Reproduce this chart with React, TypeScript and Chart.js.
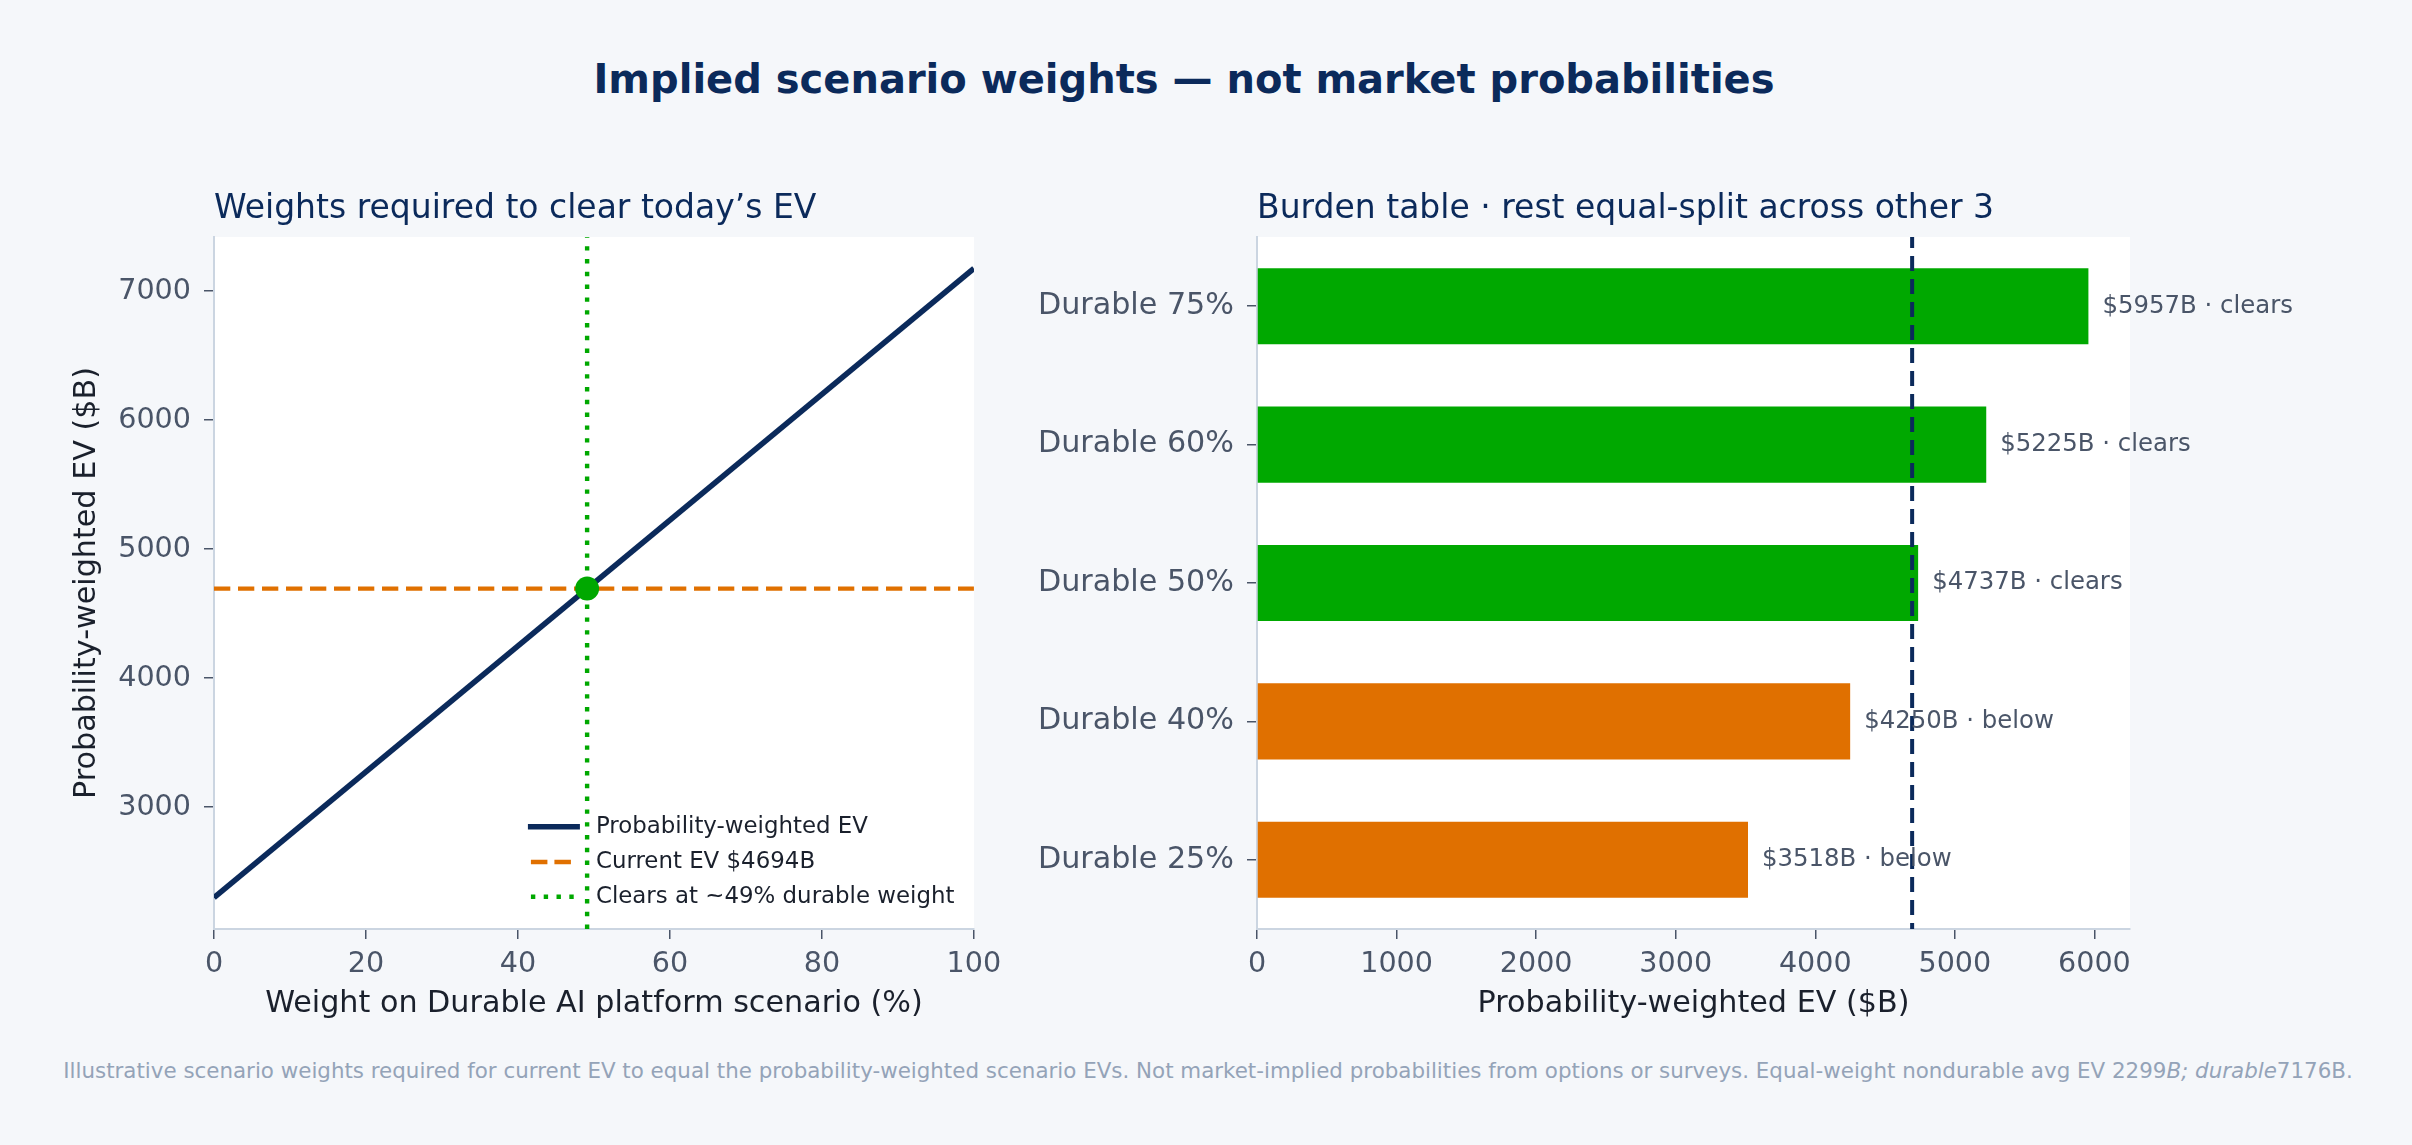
import React, { useEffect, useRef } from 'react';
import { Chart, registerables } from 'chart.js';

Chart.register(...registerables);

const FONT = '"DejaVu Sans", "Liberation Sans", sans-serif';
const NAVY = '#0b2a5b';
const GREEN = '#00a800';
const ORANGE = '#e07000';
const TICK_COLOR = '#4a5568';
const LABEL_COLOR = '#1a202c';
const SPINE = '#cbd5e1';
const PAGE_BG = '#f5f7fa';
const NOTE_COLOR = '#94a3b8';

// ---------- Left panel data ----------
const SUPTITLE = 'Implied scenario weights — not market probabilities';
const leftTitle = 'Weights required to clear today’s EV';
const weightEnds = [0, 100];
const evAtWeight = [2299, 7176];
const CURRENT_EV = 4694;
const CLEAR_WEIGHT = 49.1;
const leftXTicks = [0, 20, 40, 60, 80, 100];
const leftYTicks = [3000, 4000, 5000, 6000, 7000];
const LEFT_Y_MIN = 2055;
const LEFT_Y_MAX = 7420;
const leftXLabel = 'Weight on Durable AI platform scenario (%)';
const leftYLabel = 'Probability-weighted EV ($B)';
const legendLabels = ['Probability-weighted EV', 'Current EV $4694B', 'Clears at ~49% durable weight'];

// ---------- Right panel data ----------
const rightTitle = 'Burden table · rest equal-split across other 3';
const burdenLabels = ['Durable 75%', 'Durable 60%', 'Durable 50%', 'Durable 40%', 'Durable 25%'];
const burdenValues = [5957, 5225, 4737, 4250, 3518];
const burdenStatus = ['clears', 'clears', 'clears', 'below', 'below'];
const rightXTicks = [0, 1000, 2000, 3000, 4000, 5000, 6000];
const RIGHT_X_MAX = 6255;
const rightXLabel = 'Probability-weighted EV ($B)';

const bgPlugin = {
  id: 'plotBg',
  beforeDraw(chart: any) {
    const { ctx, chartArea: ca } = chart;
    ctx.save();
    ctx.fillStyle = '#ffffff';
    ctx.fillRect(ca.left, ca.top, ca.right - ca.left, ca.bottom - ca.top);
    ctx.restore();
  },
};

function axisCommon(tickSize: number, tickPad: number) {
  return {
    grid: { display: true, drawOnChartArea: false, drawTicks: true, tickLength: 10, color: TICK_COLOR, lineWidth: 1.5, offset: false },
    border: { display: true, color: SPINE, width: 2 },
    ticks: {
      color: TICK_COLOR,
      font: { family: FONT, size: tickSize },
      padding: tickPad,
      maxRotation: 0,
      autoSkip: false,
    },
  };
}

const plainNumber = (v: any) => String(v);

export default function App() {
  const leftRef = useRef<HTMLCanvasElement | null>(null);
  const rightRef = useRef<HTMLCanvasElement | null>(null);

  useEffect(() => {
    const leftPlugin = {
      id: 'leftDeco',
      afterDraw(chart: any) {
        const { ctx, chartArea: ca } = chart;
        ctx.save();
        ctx.font = `33px ${FONT}`;
        ctx.fillStyle = NAVY;
        ctx.textAlign = 'left';
        ctx.textBaseline = 'alphabetic';
        ctx.fillText(leftTitle, ca.left, ca.top - 18.7);

        // legend (lower right, no frame)
        const rows = [ca.bottom - 102.3, ca.bottom - 67, ca.bottom - 32.3];
        const textX = ca.right - 378;
        ctx.lineCap = 'butt';
        ctx.strokeStyle = NAVY;
        ctx.lineWidth = 5.5;
        ctx.setLineDash([]);
        ctx.beginPath();
        ctx.moveTo(ca.right - 446, rows[0]);
        ctx.lineTo(ca.right - 394, rows[0]);
        ctx.stroke();
        ctx.strokeStyle = ORANGE;
        ctx.lineWidth = 4.4;
        ctx.setLineDash([16.5, 7]);
        ctx.beginPath();
        ctx.moveTo(ca.right - 443, rows[1]);
        ctx.lineTo(ca.right - 401, rows[1]);
        ctx.stroke();
        ctx.strokeStyle = GREEN;
        ctx.setLineDash([4.4, 8.4]);
        ctx.beginPath();
        ctx.moveTo(ca.right - 443, rows[2]);
        ctx.lineTo(ca.right - 399, rows[2]);
        ctx.stroke();
        ctx.setLineDash([]);

        ctx.font = `22.9px ${FONT}`;
        ctx.fillStyle = LABEL_COLOR;
        ctx.textBaseline = 'middle';
        legendLabels.forEach((t, i) => ctx.fillText(t, textX, rows[i]));
        ctx.restore();
      },
    };

    const leftX = axisCommon(28.6, 8.8);
    const leftY = axisCommon(28.6, 13);
    const left = new Chart(leftRef.current as HTMLCanvasElement, {
      type: 'line',
      data: {
        datasets: [
          {
            label: legendLabels[0],
            data: weightEnds.map((w, i) => ({ x: w, y: evAtWeight[i] })),
            borderColor: NAVY,
            borderWidth: 5.5,
            pointRadius: 0,
            order: 1,
          },
          {
            label: legendLabels[1],
            data: [{ x: leftXTicks[0], y: CURRENT_EV }, { x: leftXTicks[leftXTicks.length - 1], y: CURRENT_EV }],
            borderColor: ORANGE,
            borderWidth: 4.4,
            borderDash: [16.3, 7.7],
            borderCapStyle: 'butt',
            pointRadius: 0,
            order: 3,
          },
          {
            label: legendLabels[2],
            data: [{ x: CLEAR_WEIGHT, y: LEFT_Y_MIN }, { x: CLEAR_WEIGHT, y: LEFT_Y_MAX }],
            borderColor: GREEN,
            borderWidth: 4.4,
            borderDash: [4.4, 8.4],
            borderCapStyle: 'butt',
            pointRadius: 0,
            order: 2,
          },
          {
            label: 'crossing',
            data: [{ x: CLEAR_WEIGHT, y: CURRENT_EV }],
            showLine: false,
            pointRadius: 12,
            pointBackgroundColor: GREEN,
            pointBorderWidth: 0,
            borderColor: GREEN,
            order: 0,
          },
        ],
      } as any,
      options: {
        animation: false,
        responsive: false,
        devicePixelRatio: 1,
        layout: { padding: { top: 87, right: 26, left: 0, bottom: 0 } },
        plugins: { legend: { display: false }, tooltip: { enabled: false }, title: { display: false } },
        scales: {
          x: {
            type: 'linear',
            min: 0,
            max: 100,
            ...leftX,
            ticks: { ...leftX.ticks, callback: plainNumber },
            afterBuildTicks: (s: any) => { s.ticks = leftXTicks.map((v) => ({ value: v })); },
            afterFit: (s: any) => { s.height = 121; },
            title: { display: true, text: leftXLabel, color: LABEL_COLOR, font: { family: FONT, size: 30.2 }, padding: { top: 0, bottom: 28 } },
          },
          y: {
            type: 'linear',
            min: LEFT_Y_MIN,
            max: LEFT_Y_MAX,
            ...leftY,
            ticks: { ...leftY.ticks, callback: plainNumber },
            afterBuildTicks: (s: any) => { s.ticks = leftYTicks.map((v) => ({ value: v })); },
            afterFit: (s: any) => { s.width = 214; },
            title: { display: true, text: leftYLabel, color: LABEL_COLOR, font: { family: FONT, size: 30.2 }, padding: { top: 69, bottom: 0 } },
          },
        },
      } as any,
      plugins: [bgPlugin, leftPlugin],
    });

    const rightPlugin = {
      id: 'rightDeco',
      afterDatasetsDraw(chart: any) {
        const { ctx, chartArea: ca, scales } = chart;
        ctx.save();
        const x = scales.x.getPixelForValue(CURRENT_EV);
        ctx.strokeStyle = NAVY;
        ctx.lineWidth = 4;
        ctx.setLineDash([15, 8]);
        ctx.lineDashOffset = 4;
        ctx.beginPath();
        ctx.moveTo(x, ca.top);
        ctx.lineTo(x, ca.bottom);
        ctx.stroke();
        ctx.setLineDash([]);
        const meta = chart.getDatasetMeta(0);
        ctx.font = `24.4px ${FONT}`;
        ctx.fillStyle = TICK_COLOR;
        ctx.textAlign = 'left';
        ctx.textBaseline = 'middle';
        meta.data.forEach((bar: any, i: number) => {
          ctx.fillText(`$${burdenValues[i]}B · ${burdenStatus[i]}`, bar.x + 14, bar.y);
        });
        ctx.restore();
      },
      afterDraw(chart: any) {
        const { ctx, chartArea: ca } = chart;
        ctx.save();
        ctx.font = `33px ${FONT}`;
        ctx.fillStyle = NAVY;
        ctx.textAlign = 'left';
        ctx.textBaseline = 'alphabetic';
        ctx.fillText(rightTitle, ca.left, ca.top - 18.7);
        ctx.restore();
      },
    };

    const rightX = axisCommon(28.6, 8.8);
    const rightY = axisCommon(30.2, 13);
    const right = new Chart(rightRef.current as HTMLCanvasElement, {
      type: 'bar',
      data: {
        labels: burdenLabels,
        datasets: [
          {
            data: burdenValues,
            backgroundColor: burdenStatus.map((s) => (s === 'clears' ? GREEN : ORANGE)),
            barPercentage: 0.55,
            categoryPercentage: 1,
            borderWidth: 0,
          },
        ],
      },
      options: {
        indexAxis: 'y',
        animation: false,
        responsive: false,
        devicePixelRatio: 1,
        layout: { padding: { top: 87, right: 282, left: 0, bottom: 0 } },
        plugins: { legend: { display: false }, tooltip: { enabled: false }, title: { display: false } },
        scales: {
          x: {
            type: 'linear',
            min: 0,
            max: RIGHT_X_MAX,
            ...rightX,
            ticks: { ...rightX.ticks, callback: plainNumber },
            afterBuildTicks: (s: any) => { s.ticks = rightXTicks.map((v) => ({ value: v })); },
            afterFit: (s: any) => { s.height = 121; },
            title: { display: true, text: rightXLabel, color: LABEL_COLOR, font: { family: FONT, size: 30.2 }, padding: { top: 0, bottom: 28 } },
          },
          y: {
            type: 'category',
            ...rightY,
            afterFit: (s: any) => { s.width = 257; },
          },
        },
      } as any,
      plugins: [bgPlugin, rightPlugin],
    });

    return () => {
      left.destroy();
      right.destroy();
    };
  }, []);

  return (
    <div style={{ position: 'absolute', left: 0, top: 0, width: 2412, height: 1145, background: PAGE_BG, overflow: 'hidden', fontFamily: FONT }}>
      <div
        style={{
          position: 'absolute', left: 1184, top: 54.9, transform: 'translateX(-50%)', whiteSpace: 'nowrap',
          fontSize: 40, lineHeight: '48px', fontWeight: 'bold', color: NAVY,
        }}
      >
        {SUPTITLE}
      </div>
      <canvas ref={leftRef} width={1010} height={900} style={{ position: 'absolute', left: 0, top: 150, width: 1010, height: 900 }} />
      <canvas ref={rightRef} width={1412} height={900} style={{ position: 'absolute', left: 1000, top: 150, width: 1412, height: 900 }} />
      <div
        style={{
          position: 'absolute', left: 1208, top: 1057.5, transform: 'translateX(-50%)', whiteSpace: 'nowrap',
          fontSize: 21.4, lineHeight: '25px', color: NOTE_COLOR,
        }}
      >
        Illustrative scenario weights required for current EV to equal the probability-weighted scenario EVs. Not market-implied probabilities from options or surveys. Equal-weight nondurable avg EV 2299<i>B;</i> <i>durable</i>7176B.
      </div>
    </div>
  );
}
